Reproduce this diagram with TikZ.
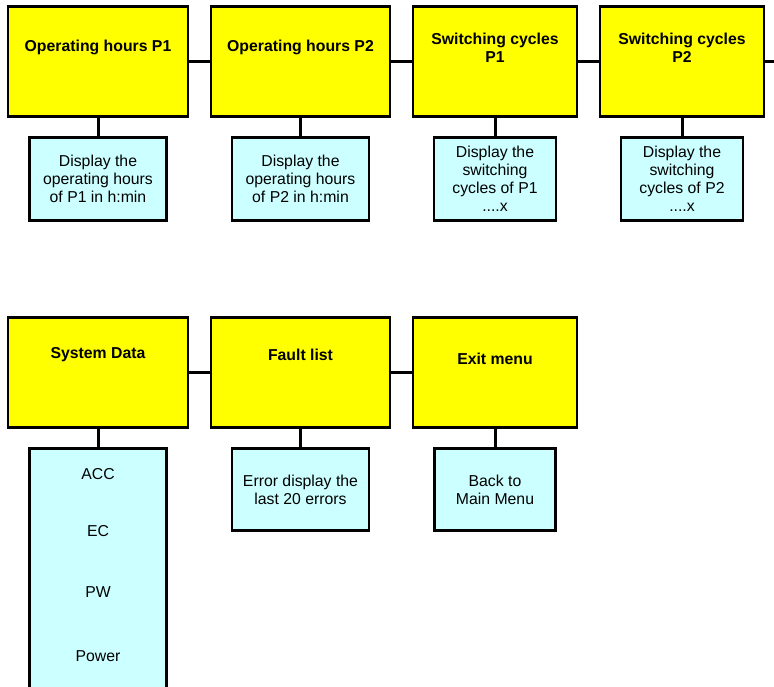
\documentclass[tikz,border=0pt]{standalone}
\usepackage{fontspec}
\setmainfont{Liberation Sans}
\usepackage{xcolor}
\definecolor{menuyellow}{HTML}{FFFF00}
\definecolor{infocyan}{HTML}{CCFFFF}
\usetikzlibrary{positioning}

\begin{document}
\begin{tikzpicture}[
  x=1pt, y=1pt,
  node distance=21pt and 23pt,
  menubox/.style={rectangle, draw, line width=2.5pt, fill=menuyellow,
              inner sep=0pt, outer sep=0pt, minimum height=110pt},
  menutext/.style={align=center, inner sep=0pt,
              font=\fontsize{15.8}{18}\selectfont\bfseries},
  infobox/.style={rectangle, draw, line width=2.5pt, fill=infocyan,
              inner sep=0pt, outer sep=0pt, align=center,
              font=\fontsize{15.8}{18}\selectfont},
  infotext/.style={inner sep=0pt, font=\fontsize{15.8}{18}\selectfont},
  link/.style={line width=3pt}
]
\useasboundingbox (0,0) rectangle (774,686);
\clip (0,0) rectangle (774,686);

% first row
\node[menubox, minimum width=180pt] (op1) at (98,624.5) {};
\node[menubox, minimum width=179pt, right=of op1] (op2) {};
\node[menubox, minimum width=164pt, right=of op2] (sc1) {};
\node[menubox, minimum width=164pt, right=of sc1] (sc2) {};
\coordinate[right=12pt of sc2.east] (rowend);

\node[menutext] (op1t) at ([yshift=14pt]op1.center) {Operating hours P1};
\node[menutext] (op2t) at ([yshift=14pt]op2.center) {Operating hours P2};
\node[menutext] (sc1t) at ([yshift=14pt]sc1.center) {Switching cycles\\P1};
\node[menutext] (sc2t) at ([yshift=14pt]sc2.center) {Switching cycles\\P2};

\node[infobox, minimum width=137pt, minimum height=83pt, below=of op1] (op1info)
  {Display the\\operating hours\\of P1 in h:min};
\node[infobox, minimum width=137pt, minimum height=83pt, below=of op2] (op2info)
  {Display the\\operating hours\\of P2 in h:min};
\node[infobox, minimum width=122pt, minimum height=83pt, below=of sc1] (sc1info)
  {Display the\\switching\\cycles of P1\\....x};
\node[infobox, minimum width=122pt, minimum height=83pt, below=of sc2] (sc2info)
  {Display the\\switching\\cycles of P2\\....x};

% second row
\node[menubox, minimum width=180pt] (sysdat) at (98,313.5) {};
\node[menubox, minimum width=179pt, right=of sysdat] (fault) {};
\node[menubox, minimum width=164pt, right=of fault] (exitm) {};

\node[menutext] (sysdatt) at ([yshift=18pt]sysdat.center) {System Data};
\node[menutext] (faultt) at ([yshift=18pt]fault.center) {Fault list};
\node[menutext] (exitmt) at ([yshift=14pt]exitm.center) {Exit menu};

\node[infobox, minimum width=137pt, minimum height=260pt, below=of sysdat] (sdlist) {};
\node[infotext] (acc) at ([yshift=-26pt]sdlist.north) {ACC};
\node[infotext] (ec) at ([yshift=-83pt]sdlist.north) {EC};
\node[infotext] (pw) at ([yshift=-144pt]sdlist.north) {PW};
\node[infotext] (power) at ([yshift=-208pt]sdlist.north) {Power};

\node[infobox, minimum width=137pt, minimum height=82pt, below=of fault] (faultinfo)
  {Error display the\\last 20 errors};
\node[infobox, minimum width=121pt, minimum height=82pt, below=of exitm] (exitinfo)
  {Back to\\Main Menu};

% connectors
\draw[link] (op1) -- (op2);
\draw[link] (op2) -- (sc1);
\draw[link] (sc1) -- (sc2);
\draw[link] (sc2) -- (rowend);
\draw[link] (op1) -- (op1info);
\draw[link] (op2) -- (op2info);
\draw[link] (sc1) -- (sc1info);
\draw[link] (sc2) -- (sc2info);

\draw[link] (sysdat) -- (fault);
\draw[link] (fault) -- (exitm);
\draw[link] (sysdat) -- (sdlist);
\draw[link] (fault) -- (faultinfo);
\draw[link] (exitm) -- (exitinfo);

\end{tikzpicture}
\end{document}
